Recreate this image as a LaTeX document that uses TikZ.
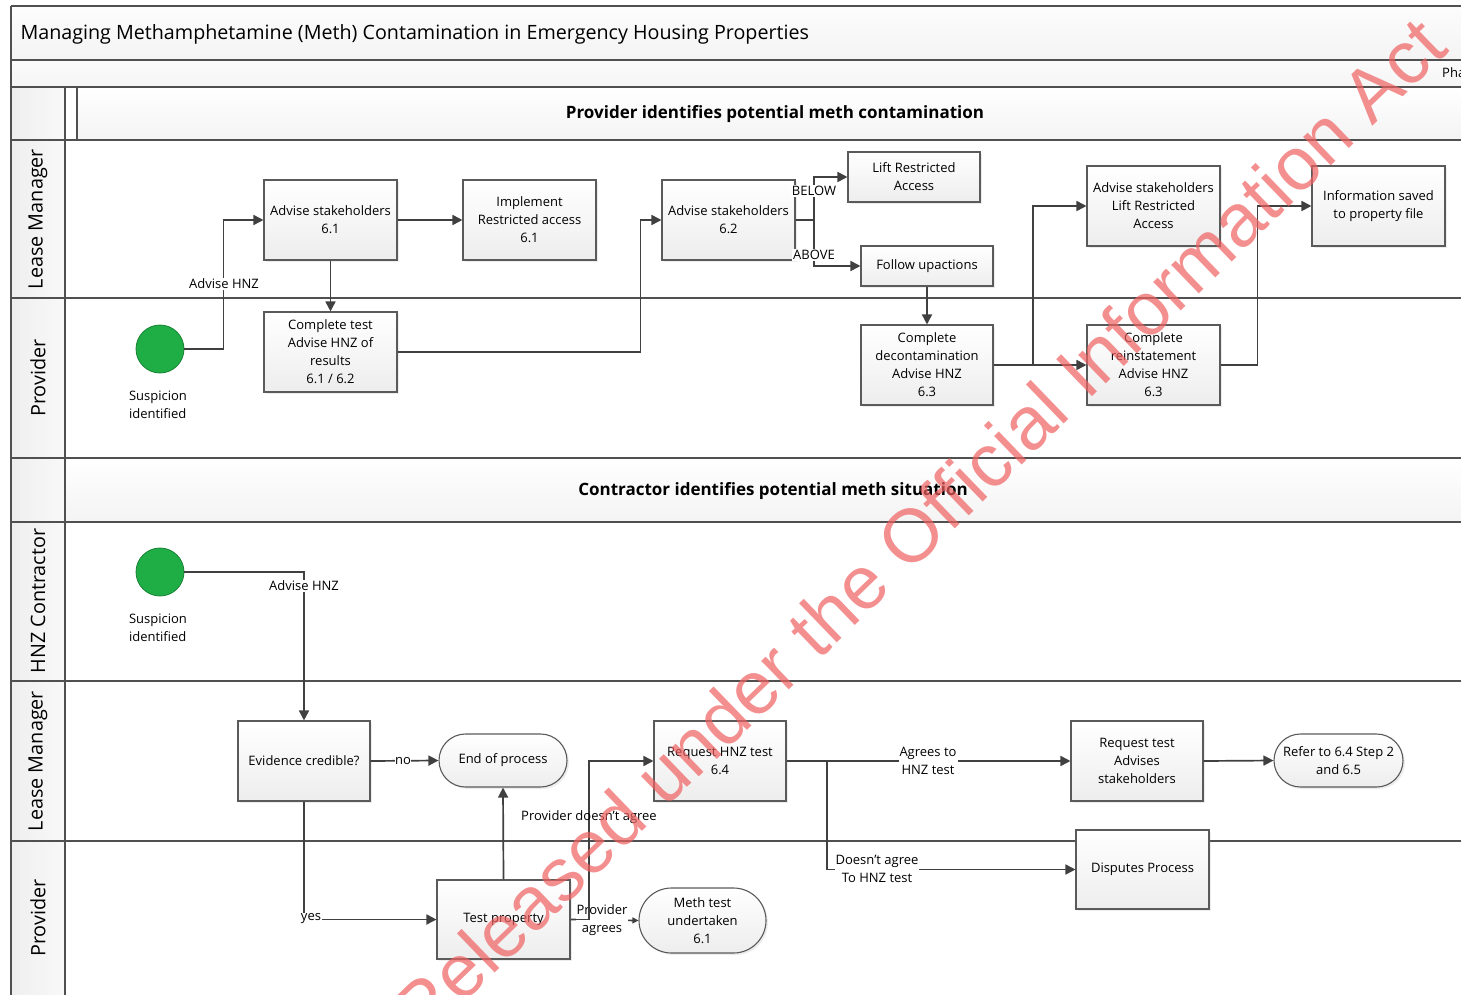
\documentclass[tikz,border=0pt]{standalone}
\usepackage{fontspec}
\setmainfont{Open Sans}
\newfontfamily\wmfont{Liberation Sans}
\usetikzlibrary{arrows.meta,shapes.misc,shadows,calc}
\definecolor{edge}{HTML}{404040}
\definecolor{bord}{HTML}{5A5A5A}
\definecolor{laneline}{HTML}{505050}
\definecolor{startgreen}{HTML}{1FAE45}
\definecolor{wmred}{HTML}{F06060}
\begin{document}
\begin{tikzpicture}[x=1pt,y=-1pt,
  txt/.style={font=\fontsize{13}{18}\selectfont},
  task/.style={rectangle, draw=bord, line width=1.1pt, top color=white, bottom color=gray!14,
    minimum width=133pt, minimum height=80pt, inner sep=2pt, align=center, txt,
    drop shadow={opacity=0.15,shadow xshift=2pt,shadow yshift=-2pt}},
  term/.style={rounded rectangle, draw=bord, line width=1.1pt, top color=white, bottom color=gray!14,
    minimum width=132pt, minimum height=53pt, inner sep=2pt, align=center, txt,
    drop shadow={opacity=0.15,shadow xshift=2pt,shadow yshift=-2pt}},
  startev/.style={circle, fill=startgreen, draw=startgreen!75!black, line width=0.8pt, minimum size=48pt, inner sep=0pt},
  lbl/.style={txt, fill=white, inner sep=1pt, align=center},
  lblnf/.style={txt, inner sep=1pt, align=center},
  line/.style={draw=edge, line width=1.7pt},
  conn/.style={line, -{Triangle[length=10pt,width=10pt]}},
  sconn/.style={line, -{Triangle[length=6pt,width=6pt]}},
  lanetxt/.style={rotate=90, font=\fontsize{19.8}{21}\selectfont},
  bandtxt/.style={font=\bfseries\fontsize{17}{19}\selectfont},
  grid/.style={draw=laneline, line width=1.1pt}
]
\useasboundingbox (0,0) rectangle (1461,995);
\clip (0,0) rectangle (1461,995);

% ---------- swimlane frame ----------
\fill[top color=gray!2, bottom color=gray!9] (11,6) rectangle (1461,60);
\fill[top color=gray!3, bottom color=gray!8] (11,60) rectangle (1461,87);
\fill[left color=gray!13, right color=gray!5] (11,87) rectangle (65,995);
\fill[top color=white, bottom color=gray!9] (77,87) rectangle (1461,140);
\fill[white] (65,87) rectangle (77,140);
\fill[top color=white, bottom color=gray!9] (65,458) rectangle (1461,522);
\foreach \yy in {6,60,87,140,298,458,522,681,841} { \draw[grid] (11,\yy) -- (1461,\yy); }
\draw[grid] (11,6) -- (11,995);
\draw[grid] (65,87) -- (65,995);
\draw[grid] (77,87) -- (77,140);

\node[anchor=west, font=\fontsize{19.7}{21}\selectfont] (title) at (17,34) {Managing Methamphetamine (Meth) Contamination in Emergency Housing Properties};
\node[anchor=west, txt, inner sep=0pt] (phase) at (1442,73) {Pha};
\node[bandtxt] (band1) at (775,114) {Provider identifies potential meth contamination};
\node[bandtxt] (band2) at (773,491) {Contractor identifies potential meth situation};

\node[lanetxt] (l1) at (38,219) {Lease Manager};
\node[lanetxt] (l2) at (38,378) {Provider};
\node[lanetxt] (l3) at (38,601) {HNZ Contractor};
\node[lanetxt] (l4) at (38,761) {Lease Manager};
\node[lanetxt] (l5) at (38,918) {Provider};

% ---------- top section nodes ----------
\node[startev] (s1) at (160,349) {};
\node[txt, align=left] (s1l) at (158,405) {Suspicion\\identified};
\node[task] (as61) at (330.5,220) {Advise stakeholders\\6.1};
\node[task] (impl) at (529.5,220) {Implement\\Restricted access\\6.1};
\node[task] (ctest) at (330.5,352) {Complete test\\Advise HNZ of\\results\\6.1 / 6.2};
\node[task] (as62) at (728.5,220) {Advise stakeholders\\6.2};
\node[task, minimum width=132pt, minimum height=50pt] (lift) at (914,177) {Lift Restricted\\Access};
\node[task, minimum width=132pt, minimum height=40pt] (follow) at (927,266) {Follow upactions};
\node[task, minimum width=132pt] (decon) at (927,365) {Complete\\decontamination\\Advise HNZ\\6.3};
\node[task] (asl) at (1153.5,206) {Advise stakeholders\\Lift Restricted\\Access};
\node[task] (reinst) at (1153.5,365) {Complete\\reinstatement\\Advise HNZ\\6.3};
\node[task] (info) at (1378.5,206) {Information saved\\to property file};

% ---------- bottom section nodes ----------
\node[startev] (s2) at (160,572) {};
\node[txt, align=left] (s2l) at (158,628) {Suspicion\\identified};
\node[task, minimum width=132pt] (ev) at (304,761) {Evidence credible?};
\node[term] (endp) at (503,760.5) {End of process};
\node[task, minimum height=79pt] (test) at (503.5,919.5) {Test property};
\node[term, minimum width=131pt, minimum height=65pt] (meth) at (702.5,920.5) {Meth test\\undertaken\\6.1};
\node[task, minimum width=132pt] (req) at (720,761) {Request HNZ test\\6.4};
\node[task, minimum width=132pt] (reqt) at (1137,761) {Request test\\Advises\\stakeholders};
\node[term, minimum width=133pt] (refer) at (1338.5,760.5) {Refer to 6.4 Step 2\\and 6.5};
\node[task, minimum height=79pt] (disp) at (1142.5,869.5) {Disputes Process};

% ---------- top connectors ----------
\draw[conn] (s1.east) -| ([xshift=-40pt]as61.west) -- (as61.west);
\node[lbl] (lab1) at (224,284) {Advise HNZ};
\draw[conn] (as61.east) -- (impl.west);
\draw[conn] (as61.south) -- (ctest.north);
\draw[conn] (ctest.east) -| ([xshift=-21pt]as62.west) -- (as62.west);
\coordinate (g1) at (814,220);
\draw[line] (as62.east) -- (g1);
\draw[conn] (g1) |- (lift.west);
\draw[conn] (g1) |- (follow.west);
\node[lbl] (below) at (814,191) {BELOW};
\node[lbl] (above) at (814,255) {ABOVE};
\draw[conn] (follow.south) -- (decon.north);
\draw[conn] (decon.east) -- (reinst.west);
\coordinate (b1) at (1033,365);
\draw[conn] (b1) |- (asl.west);
\draw[conn] (reinst.east) -| ([xshift=-54pt]info.west) -- (info.west);

% ---------- bottom connectors ----------
\draw[conn] (s2.east) -| (ev.north);
\node[lbl] (lab2) at (304,586) {Advise HNZ};
\draw[conn] (ev.east) -- (endp.west);
\node[lbl, inner sep=0.5pt] (no) at (403,761) {no};
\draw[conn] (ev.south) |- (test.west);
\node[lbl, inner sep=0.5pt] (yes) at (311,919) {yes};
\draw[conn] (test.north) -- (endp.south);
\draw[sconn] (test.east) -- (meth.west);
\node[lbl] (pagr) at (602,920) {Provider\\agrees};
\draw[conn] (test.east) -- (589,919.5) |- (req.west);
\node[lblnf] (pdis) at (589,817) {Provider doesn’t agree};
\draw[conn] (req.east) -- (reqt.west);
\node[lbl] (agr) at (928,761) {Agrees to\\HNZ test};
\coordinate (b2) at (827,761);
\draw[conn] (b2) |- (disp.west);
\node[lbl] (dagr) at (877,869) {Doesn’t agree\\To HNZ test};
\draw[conn] (reqt.east) -- (refer.west);

% ---------- watermark ----------
\node[rotate=44, text=wmred, text opacity=0.7, font=\wmfont\fontsize{75}{77}\selectfont, inner sep=0pt] (wm) at (918,528) {Released under the Official Information Act};
\end{tikzpicture}
\end{document}
